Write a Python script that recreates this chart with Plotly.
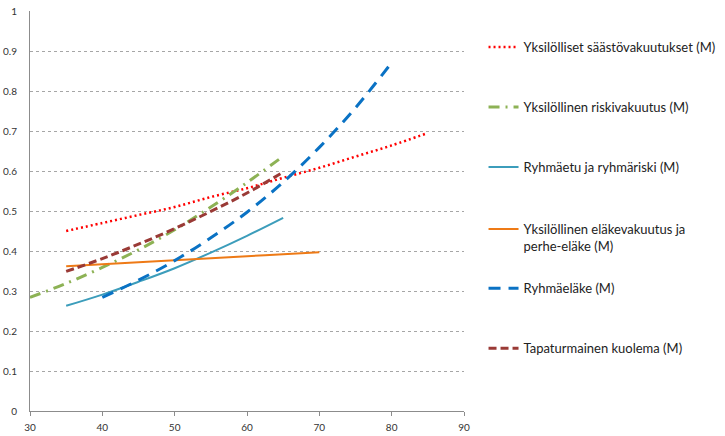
import plotly.graph_objects as go

# Trendline values by age (M = men)
ages_saasto = [35, 40, 45, 50, 55, 60, 65, 70, 75, 80, 85]
saasto = [0.450, 0.470, 0.490, 0.510, 0.535, 0.557, 0.583, 0.608, 0.636, 0.664, 0.695]

ages_riski = [30, 35, 40, 45, 50, 55, 60, 65]
riski = [0.284, 0.319, 0.359, 0.403, 0.453, 0.510, 0.571, 0.637]

ages_ryhmaetu = [35, 40, 45, 50, 55, 60, 65]
ryhmaetu = [0.263, 0.291, 0.323, 0.357, 0.396, 0.438, 0.483]

ages_elake = [35, 40, 45, 50, 55, 60, 65, 70]
elake = [0.362, 0.367, 0.372, 0.377, 0.382, 0.387, 0.392, 0.397]

ages_ryhmaelake = [40, 45, 50, 55, 60, 65, 70, 75, 80]
ryhmaelake = [0.284, 0.327, 0.376, 0.433, 0.497, 0.572, 0.659, 0.758, 0.871]

ages_kuolema = [35, 40, 45, 50, 55, 60, 65]
kuolema = [0.349, 0.381, 0.417, 0.456, 0.499, 0.545, 0.597]

names = [
    "Yksilölliset säästövakuutukset (M)",
    "Yksilöllinen riskivakuutus (M)",
    "Ryhmäetu ja ryhmäriski (M)",
    "Yksilöllinen eläkevakuutus ja<br>perhe-eläke (M)",
    "Ryhmäeläke (M)",
    "Tapaturmainen kuolema (M)",
]

series = [
    (ages_saasto, saasto, "#FF0000", 2.5, "2px,3px"),
    (ages_riski, riski, "#8DB255", 3, "11px,6px,2px,6px"),
    (ages_ryhmaetu, ryhmaetu, "#3C9DBB", 2, "solid"),
    (ages_elake, elake, "#EE7A16", 2, "solid"),
    (ages_ryhmaelake, ryhmaelake, "#0A72C4", 3, "12px,8px"),
    (ages_kuolema, kuolema, "#9A3A36", 3, "8px,4px"),
]

# legend entry positions (paper y)
legend_y = [0.91, 0.76, 0.61, 0.4925, 0.307, 0.157]

fig = go.Figure()
layout_legends = {}
for i, ((xs, ys, color, width, dash), name) in enumerate(zip(series, names)):
    key = "legend" if i == 0 else f"legend{i + 1}"
    fig.add_trace(go.Scatter(
        x=xs, y=ys, mode="lines", name=name,
        line=dict(color=color, width=width, dash=dash, shape="spline"),
        legend=key,
    ))
    layout_legends[key] = dict(
        x=1.045, xanchor="left",
        y=legend_y[i], yanchor="top" if i == 3 else "middle",
        valign="top",
        font=dict(family="Lato, sans-serif", size=13, color="#222"),
        bgcolor="rgba(0,0,0,0)",
        itemwidth=30,
    )

fig.update_layout(
    width=725, height=436,
    margin=dict(l=30, r=261, t=11, b=25, autoexpand=False),
    paper_bgcolor="white", plot_bgcolor="white",
    showlegend=True,
    **layout_legends,
)
fig.update_xaxes(
    range=[30, 90], tickvals=[30, 40, 50, 60, 70, 80, 90],
    showgrid=False, zeroline=False, automargin=False,
    showline=True, linecolor="#8C8C8C", linewidth=1,
    ticks="outside", ticklen=4, tickcolor="#8C8C8C", ticklabelstandoff=3,
    tickfont=dict(family="Lato, sans-serif", size=10, color="#333"),
)
fig.update_yaxes(
    range=[0, 1], tickvals=[0, 0.1, 0.2, 0.3, 0.4, 0.5, 0.6, 0.7, 0.8, 0.9, 1],
    ticktext=["0", "0.1", "0.2", "0.3", "0.4", "0.5", "0.6", "0.7", "0.8", "0.9", "1"],
    showgrid=True, gridcolor="#A6A6A6", gridwidth=1, griddash="dot",
    zeroline=False, automargin=False,
    showline=True, linecolor="#8C8C8C", linewidth=1,
    ticks="", ticklabelstandoff=10,
    tickfont=dict(family="Lato, sans-serif", size=10, color="#333"),
)

fig.write_html("out.html")
